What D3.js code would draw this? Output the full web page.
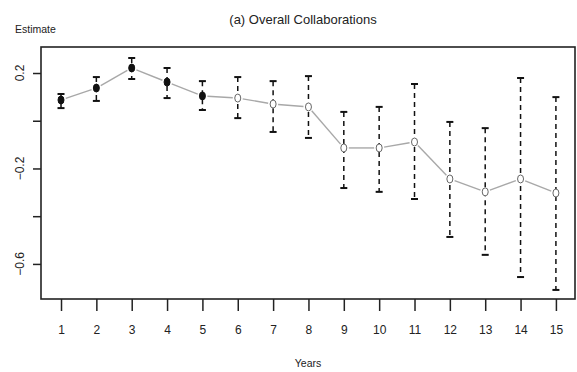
<!DOCTYPE html>
<html>
<head>
<meta charset="utf-8">
<script src="https://cdn.jsdelivr.net/npm/d3@7"></script>
<style>
  body { margin: 0; background: #fff; }
  text { font-family: "Liberation Sans", Arial, sans-serif; fill: #222; }
</style>
</head>
<body>
<div id="chart"></div>
<script>
// Data
var years = [1, 2, 3, 4, 5, 6, 7, 8, 9, 10, 11, 12, 13, 14, 15];
var estimate = [0.087, 0.137, 0.221, 0.162, 0.104, 0.095, 0.070, 0.058, -0.114, -0.114, -0.089, -0.244, -0.298, -0.244, -0.303];
var upper = [0.112, 0.183, 0.263, 0.221, 0.166, 0.183, 0.166, 0.187, 0.037, 0.058, 0.154, -0.005, -0.031, 0.179, 0.099];
var lower = [0.053, 0.083, 0.175, 0.095, 0.045, 0.011, -0.047, -0.072, -0.282, -0.298, -0.328, -0.487, -0.562, -0.655, -0.709];
var filled = [true, true, true, true, true, false, false, false, false, false, false, false, false, false, false];
var yTicks = [0.2, 0, -0.2, -0.4, -0.6];
var yLabelled = [0.2, -0.2, -0.6];

var margin = {top: 47, right: 2, bottom: 73, left: 41};
var width = 577, height = 372;
var w = width - margin.left - margin.right;
var h = height - margin.top - margin.bottom;

var data = years.map(function(d, i) {
    return {year: d, est: estimate[i], hi: upper[i], lo: lower[i], filled: filled[i]};
});

var x = d3.scaleLinear().domain([0.434, 15.54]).range([0, w]);
var y = d3.scaleLinear().domain([-0.747, 0.309]).range([h, 0]);

var svg = d3.select("#chart").append("svg")
    .attr("width", width)
    .attr("height", height);

var g = svg.append("g")
    .attr("transform", "translate(" + margin.left + "," + margin.top + ")");

// connecting line, broken around each point (R type = "b")
var gap = 5;
for (var i = 0; i < data.length - 1; i++) {
    var x0 = x(data[i].year), y0 = y(data[i].est);
    var x1 = x(data[i + 1].year), y1 = y(data[i + 1].est);
    var len = Math.sqrt((x1 - x0) * (x1 - x0) + (y1 - y0) * (y1 - y0));
    var ux = (x1 - x0) / len, uy = (y1 - y0) / len;
    g.append("line")
        .attr("x1", x0 + ux * gap).attr("y1", y0 + uy * gap)
        .attr("x2", x1 - ux * gap).attr("y2", y1 - uy * gap)
        .style("stroke", "#a8a8a8")
        .style("stroke-width", 1.4);
}

// error bars
var bars = g.selectAll(".bar").data(data).enter().append("g").attr("class", "bar");
bars.append("line")
    .attr("x1", function(d) { return x(d.year); })
    .attr("x2", function(d) { return x(d.year); })
    .attr("y1", function(d) { return y(d.hi); })
    .attr("y2", function(d) { return y(d.lo); })
    .style("stroke", "#111")
    .style("stroke-width", 1.5)
    .style("stroke-dasharray", "5,4");
bars.append("line")
    .attr("x1", function(d) { return x(d.year) - 3.5; })
    .attr("x2", function(d) { return x(d.year) + 3.5; })
    .attr("y1", function(d) { return y(d.hi); })
    .attr("y2", function(d) { return y(d.hi); })
    .style("stroke", "#111").style("stroke-width", 2);
bars.append("line")
    .attr("x1", function(d) { return x(d.year) - 3.5; })
    .attr("x2", function(d) { return x(d.year) + 3.5; })
    .attr("y1", function(d) { return y(d.lo); })
    .attr("y2", function(d) { return y(d.lo); })
    .style("stroke", "#111").style("stroke-width", 2);

// points
g.selectAll(".pt").data(data).enter().append("ellipse")
    .attr("class", "pt")
    .attr("cx", function(d) { return x(d.year); })
    .attr("cy", function(d) { return y(d.est); })
    .attr("rx", 3)
    .attr("ry", 4)
    .style("fill", function(d) { return d.filled ? "#111" : "#fff"; })
    .style("stroke", function(d) { return d.filled ? "#111" : "#666"; })
    .style("stroke-width", 1);

// frame
g.append("rect")
    .attr("x", 0).attr("y", 0)
    .attr("width", w).attr("height", h)
    .style("fill", "none")
    .style("stroke", "#222")
    .style("stroke-width", 1.6);

// x axis
var xAxis = g.append("g")
    .attr("transform", "translate(0," + h + ")")
    .call(d3.axisBottom(x).tickValues(years).tickSize(12).tickPadding(14).tickFormat(d3.format("d")));
xAxis.select(".domain").remove();
xAxis.selectAll("line").style("stroke", "#222").style("stroke-width", 1.5);
xAxis.selectAll("text").style("font-size", "12px").style("fill", "#222");

// y axis
var yAxis = g.append("g")
    .call(d3.axisLeft(y).tickValues(yTicks).tickSize(8).tickFormat(""));
yAxis.select(".domain").remove();
yAxis.selectAll("line").style("stroke", "#222").style("stroke-width", 1.5);

g.selectAll(".ylab").data(yLabelled).enter().append("text")
    .attr("class", "ylab")
    .attr("transform", function(d) { return "translate(-17," + y(d) + ") rotate(-90)"; })
    .attr("text-anchor", "middle")
    .style("font-size", "12px")
    .text(function(d) { return d === 0 ? "0" : String(d).replace("-", "\u2212"); });

// titles
svg.append("text")
    .attr("x", 303).attr("y", 24)
    .attr("text-anchor", "middle")
    .style("font-size", "13px")
    .text("(a) Overall Collaborations");

svg.append("text")
    .attr("x", 15).attr("y", 33)
    .style("font-size", "10.5px")
    .text("Estimate");

svg.append("text")
    .attr("x", margin.left + w / 2).attr("y", 367)
    .attr("text-anchor", "middle")
    .style("font-size", "10.5px")
    .text("Years");
</script>
</body>
</html>
